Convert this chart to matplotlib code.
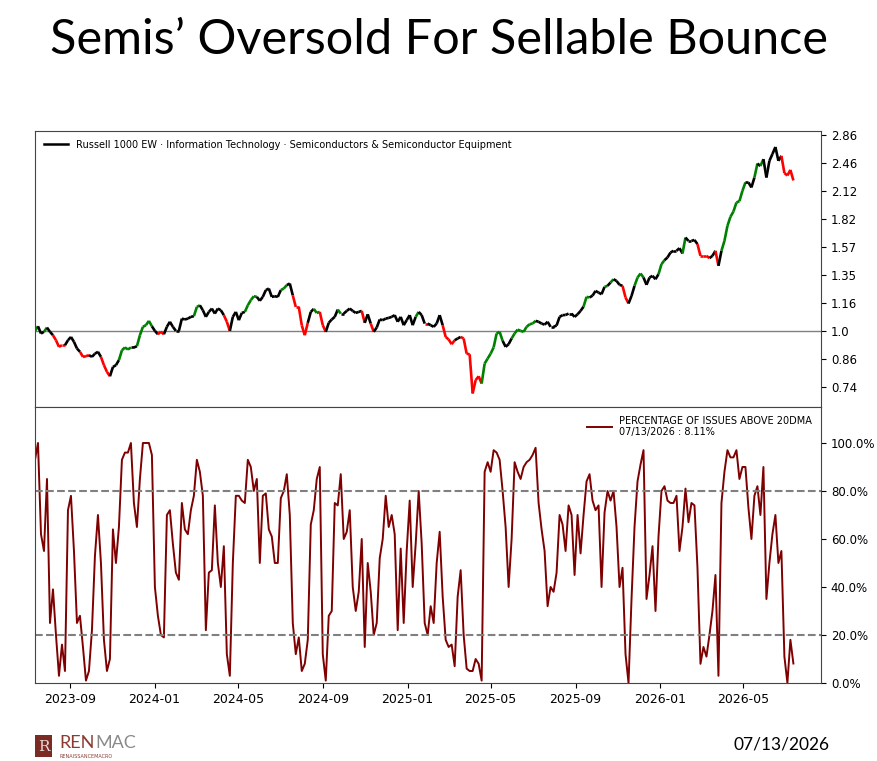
import numpy as np
import pandas as pd
import matplotlib
matplotlib.use('Agg')
import matplotlib.pyplot as plt
import matplotlib.dates as mdates
from matplotlib.collections import LineCollection
from matplotlib.patches import Rectangle

# percentage of issues above 20dma
pct = [93, 100, 62, 55, 85, 25, 39, 20, 3, 16,
       5, 72, 78, 55, 25, 28, 15, 1, 5, 22,
       53, 70, 50, 18, 5, 10, 64, 50, 65, 93,
       96, 96, 100, 75, 65, 85, 100, 100, 100, 95,
       40, 28, 20, 19, 70, 72, 58, 46, 43, 75,
       64, 62, 72, 78, 93, 88, 78, 22, 46, 47,
       74, 50, 40, 57, 12, 3, 50, 78, 78, 76,
       75, 93, 90, 80, 85, 50, 78, 79, 64, 61,
       50, 50, 77, 80, 87, 70, 25, 12, 19, 5,
       8, 18, 66, 72, 85, 90, 12, 1, 28, 30,
       75, 74, 87, 60, 63, 72, 40, 30, 38, 60,
       15, 50, 38, 20, 25, 52, 60, 78, 65, 70,
       62, 22, 56, 25, 55, 76, 40, 58, 80, 58,
       25, 20, 32, 25, 50, 63, 36, 18, 15, 16,
       7, 36, 47, 20, 6, 5, 5, 10, 8, 1,
       88, 92, 88, 97, 96, 93, 80, 65, 40, 60,
       92, 88, 85, 90, 92, 93, 95, 98, 75, 64,
       55, 32, 40, 38, 46, 70, 66,
       55, 74, 70, 45, 70, 54, 70, 84, 87, 76,
       72, 74, 40, 71, 80, 76, 80, 65, 40, 48,
       12, 0, 35, 65, 84, 91, 97, 35, 45, 57,
       30, 61, 80, 82, 76, 75, 75, 78, 55, 65,
       81, 67, 75, 74, 48, 8, 15, 11, 20, 30,
       45, 3, 75, 88, 97, 94, 94, 97, 85, 90,
       90, 73, 60, 78, 82, 70, 90, 35, 50, 62,
       70, 50, 55, 11, 0, 18, 8.11]

# relative price of the semis group
price = [1.0, 1.025, 0.986, 0.995, 1.018, 0.995, 0.977, 0.951, 0.918, 0.926,
         0.926, 0.951, 0.968, 0.943, 0.910, 0.894, 0.870, 0.873, 0.878, 0.870,
         0.885, 0.894, 0.870, 0.832, 0.803, 0.784, 0.824, 0.832, 0.855, 0.901,
         0.915, 0.905, 0.915, 0.915, 0.921, 0.977, 1.022, 1.031, 1.055, 1.025,
         1.0, 0.982, 0.995, 0.982, 1.022, 1.050, 1.022, 1.0, 1.0, 1.068,
         1.063, 1.068, 1.078, 1.082, 1.137, 1.147, 1.117, 1.078, 1.107, 1.127,
         1.097, 1.127, 1.117, 1.088, 1.050, 1.0, 1.078, 1.107, 1.059, 1.101,
         1.107, 1.147, 1.179, 1.204, 1.200, 1.175, 1.200, 1.244, 1.255, 1.200,
         1.204, 1.200, 1.244, 1.255, 1.278, 1.289, 1.210, 1.137, 1.137, 1.03,
         0.977, 1.044, 1.107, 1.125, 1.101, 1.107, 1.031, 0.995, 1.044, 1.063,
         1.078, 1.121, 1.097, 1.097, 1.113, 1.127, 1.113, 1.101, 1.107, 1.113,
         1.044, 1.093, 1.040, 0.995, 1.018, 1.063, 1.059, 1.068, 1.072, 1.078,
         1.088, 1.050, 1.078, 1.031, 1.059, 1.088, 1.031, 1.078, 1.107, 1.088,
         1.040, 1.040, 1.031, 1.022, 1.040, 1.088, 1.031, 0.968, 0.955, 0.931,
         0.951, 0.960, 0.968, 0.960, 0.885, 0.882, 0.715, 0.768, 0.784, 0.754,
         0.839, 0.862, 0.885, 0.915, 0.986, 0.995, 0.948, 0.918, 0.931, 0.960,
         0.986, 1.007, 1.0, 0.995, 1.022, 1.036, 1.040, 1.055, 1.050, 1.040,
         1.034, 1.050, 1.022, 1.022, 1.029, 1.078, 1.088,
         1.089, 1.097, 1.097, 1.078, 1.093, 1.113, 1.139, 1.200, 1.196, 1.208,
         1.239, 1.228, 1.217, 1.266, 1.273, 1.296, 1.319, 1.307, 1.280, 1.273,
         1.196, 1.158, 1.206, 1.273, 1.331, 1.360, 1.331, 1.280, 1.331, 1.343,
         1.319, 1.355, 1.430, 1.461, 1.482, 1.522, 1.536, 1.536, 1.558, 1.514,
         1.649, 1.620, 1.620, 1.628, 1.592, 1.495, 1.495, 1.495, 1.477, 1.495,
         1.536, 1.417, 1.536, 1.620, 1.756, 1.843, 1.896, 1.990, 2.005, 2.118,
         2.216, 2.216, 2.157, 2.275, 2.452, 2.420, 2.511, 2.275, 2.488, 2.580,
         2.68, 2.488, 2.555, 2.33, 2.30, 2.37, 2.24]

dates = pd.date_range('2023-07-12', '2026-07-13', periods=len(pct))

price_ticks = [0.74, 0.86, 1.0, 1.16, 1.35, 1.57, 1.82, 2.12, 2.46, 2.86]
pct_ticks = [0, 20, 40, 60, 80, 100]

title = 'Semis\u2019 Oversold For Sellable Bounce'
series_name = 'Russell 1000 EW \u00b7 Information Technology \u00b7 Semiconductors & Semiconductor Equipment'
breadth_name = 'PERCENTAGE OF ISSUES ABOVE 20DMA\n07/13/2026 : 8.11%'
date_stamp = '07/13/2026'

fig = plt.figure(figsize=(8.77, 7.61), dpi=100)
ax1 = fig.add_axes([0.0399, 0.4652, 0.8963, 0.3627])
ax2 = fig.add_axes([0.0399, 0.1025, 0.8963, 0.3627], sharex=ax1)

# top panel: price coloured by breadth
x = mdates.date2num(dates)
pts = np.column_stack([x, price])
segs = np.stack([pts[:-1], pts[1:]], axis=1)
cols = []
for v in pct[1:]:
    if v >= 80:
        cols.append('green')
    elif v <= 20:
        cols.append('red')
    else:
        cols.append('black')
lc = LineCollection(segs, colors=cols, linewidths=1.9, zorder=3)
ax1.add_collection(lc)
ax1.axhline(1.0, color='#808080', lw=1.0, zorder=1)
ax1.set_yscale('log')
ax1.set_ylim(0.665, 2.92)
ax1.yaxis.tick_right()
ax1.yaxis.set_major_locator(matplotlib.ticker.FixedLocator(price_ticks))
ax1.yaxis.set_minor_locator(matplotlib.ticker.NullLocator())
ax1.yaxis.set_major_formatter(matplotlib.ticker.FixedFormatter([str(t) for t in price_ticks]))
ax1.tick_params(axis='x', which='both', bottom=False, labelbottom=False)
ax1.tick_params(axis='y', labelsize=8.5)
ax1.plot([], [], color='black', lw=1.8, label=series_name)
ax1.legend(loc='upper left', frameon=False, fontsize=7, handlelength=2.5)

# bottom panel: breadth
ax2.plot(dates, pct, color='#7f0000', lw=1.4, label=breadth_name)
ax2.axhline(80, color='gray', ls='--', lw=1.5)
ax2.axhline(20, color='gray', ls='--', lw=1.5)
ax2.set_ylim(0, 115)
ax2.yaxis.tick_right()
ax2.set_yticks(pct_ticks)
ax2.set_yticklabels([f'{t:.1f}%' for t in pct_ticks])
ax2.tick_params(axis='y', labelsize=8.5)
ax2.tick_params(axis='x', labelsize=9)
ax2.xaxis.set_major_locator(mdates.MonthLocator(bymonth=[1, 5, 9]))
ax2.xaxis.set_major_formatter(mdates.DateFormatter('%Y-%m'))
ax2.set_xlim(dates[0], pd.Timestamp('2026-08-22'))
ax2.legend(loc='upper right', frameon=False, fontsize=7, handlelength=2.5,
           labelspacing=0.1)

for a in (ax1, ax2):
    for s in a.spines.values():
        s.set_color('#444444')

fig.text(0.5, 0.948, title, ha='center', va='center', fontsize=35,
         family='Lato')
fig.text(0.946, 0.0115, date_stamp, ha='right', va='bottom', fontsize=12.5,
         family='Lato')

# RENMAC logo
fig.patches.append(Rectangle((0.040, 0.005), 0.019, 0.029, transform=fig.transFigure,
                             facecolor='#7a2b24', edgecolor='none'))
fig.text(0.0495, 0.019, 'R', ha='center', va='center', fontsize=11,
         color='#e8d8d4', family='DejaVu Serif')
ren = fig.text(0.068, 0.0125, 'REN', ha='left', va='bottom', fontsize=13,
               color='#8c3b32', family='Lato')
fig.canvas.draw()
bb = ren.get_window_extent().transformed(fig.transFigure.inverted())
fig.text(bb.x1, 0.0125, 'MAC', ha='left', va='bottom', fontsize=13,
         color='#8a8a8a', family='Lato')
fig.text(0.068, 0.003, 'RENAISSANCEMACRO', ha='left', va='bottom', fontsize=3.5,
         color='#8c3b32', family='DejaVu Sans')

fig.savefig('out.png', dpi=100)
